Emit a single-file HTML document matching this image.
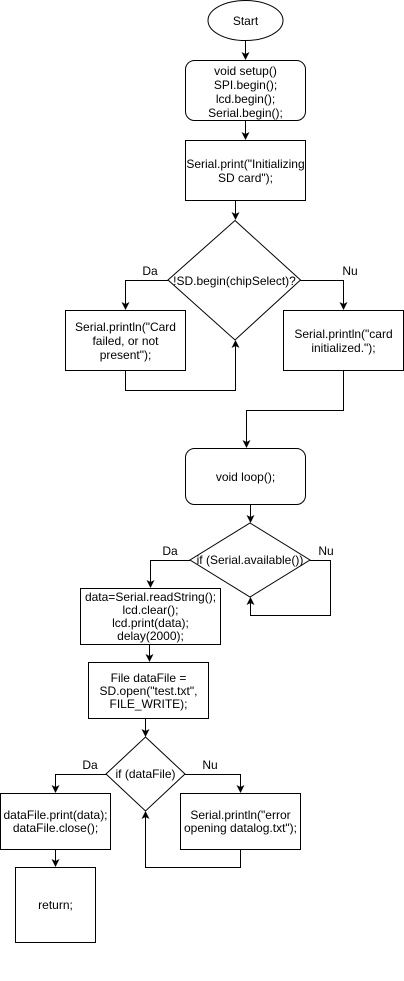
<!DOCTYPE html>
<html><head><style>body{margin:0;background:#fff}svg{display:block}text{font-family:"Liberation Sans",Arial,sans-serif;font-size:12px;fill:#000}</style></head>
<body>
<svg width="404" height="981" viewBox="0 0 404 981" xmlns="http://www.w3.org/2000/svg">
<defs><marker id="a" markerWidth="8" markerHeight="8" refX="7" refY="4" orient="auto" markerUnits="userSpaceOnUse"><path d="M0,0 L8,4 L0,8 L2,4 Z" fill="#000"/></marker></defs>
<g fill="#fff" stroke="#000" stroke-width="1">
<ellipse cx="245.5" cy="20.5" rx="37.5" ry="20"/>
<rect x="185.5" y="60.5" width="120" height="60" rx="9"/>
<rect x="185.5" y="140.5" width="120" height="60"/>
<path d="M235 220.5 L300.5 280 L235 340 L168 280 Z"/>
<rect x="65.5" y="310.5" width="120" height="60"/>
<rect x="283.5" y="310.5" width="120" height="60"/>
<rect x="185.5" y="448.5" width="120" height="56" rx="9"/>
<path d="M250 523 L310 560 L250 597 L190 560 Z"/>
<rect x="80.5" y="588.5" width="140" height="56"/>
<rect x="88.5" y="662.5" width="120" height="56"/>
<path d="M145.5 737 L185 774 L145.5 811 L106 774 Z"/>
<rect x="0.5" y="793.5" width="110" height="56"/>
<rect x="180.5" y="793.5" width="120" height="56"/>
<rect x="15.5" y="867.5" width="80" height="75"/>
</g>
<g fill="none" stroke="#000" stroke-width="1" marker-end="url(#a)">
<path d="M245.5 41 V59"/>
<path d="M245.5 121 V139"/>
<path d="M235.5 201 V219"/>
<path d="M168 280.5 H125.5 V309"/>
<path d="M300.5 280.5 H343.5 V309"/>
<path d="M125.5 371 V390.5 H235.5 V341"/>
<path d="M343.5 371 V410.5 H246.5 V447"/>
<path d="M250.5 505 V522"/>
<path d="M190 560.5 H150.5 V587"/>
<path d="M310 560.5 H330.5 V615.5 H250.5 V598"/>
<path d="M149.5 645 V661"/>
<path d="M145.5 719 V736"/>
<path d="M106 774.5 H55.5 V792"/>
<path d="M185 774.5 H240.5 V792"/>
<path d="M240.5 850 V867.5 H145.5 V812"/>
<path d="M55.5 850 V866"/>
</g>
<g text-anchor="middle">
<text x="245.5" y="25">Start</text>
<text x="245.5" y="75">void setup()</text>
<text x="245.5" y="89">SPI.begin();</text>
<text x="245.5" y="103">lcd.begin();</text>
<text x="245.5" y="117">Serial.begin();</text>
<text x="245.5" y="168">Serial.print("Initializing</text>
<text x="245.5" y="182">SD card");</text>
<text x="234.5" y="285">!SD.begin(chipSelect)?</text>
<text x="150" y="275">Da</text>
<text x="350" y="275">Nu</text>
<text x="125.5" y="331">Serial.println("Card</text>
<text x="125.5" y="345">failed, or not</text>
<text x="125.5" y="359">present");</text>
<text x="343.5" y="338">Serial.println("card</text>
<text x="343.5" y="352">initialized.");</text>
<text x="245.5" y="481">void loop();</text>
<text x="250" y="564">if (Serial.available())</text>
<text x="170" y="555">Da</text>
<text x="326" y="555">Nu</text>
<text x="150.5" y="601">data=Serial.readString();</text>
<text x="150.5" y="614">lcd.clear();</text>
<text x="150.5" y="627">lcd.print(data);</text>
<text x="150.5" y="640">delay(2000);</text>
<text x="148.5" y="682">File dataFile =</text>
<text x="148.5" y="695">SD.open("test.txt",</text>
<text x="148.5" y="708">FILE_WRITE);</text>
<text x="145.5" y="778">if (dataFile)</text>
<text x="90" y="769">Da</text>
<text x="210" y="769">Nu</text>
<text x="55.5" y="819">dataFile.print(data);</text>
<text x="55.5" y="832">dataFile.close();</text>
<text x="240.5" y="819">Serial.println("error</text>
<text x="240.5" y="832">opening datalog.txt");</text>
<text x="55.5" y="909">return;</text>
</g>
</svg>
</body></html>
